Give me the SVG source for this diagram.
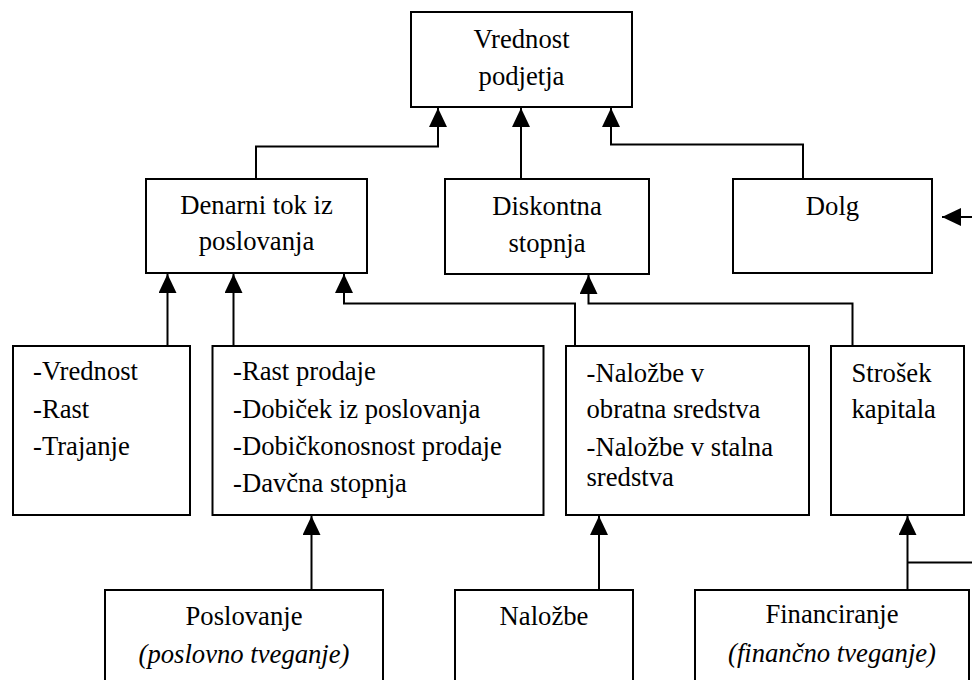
<svg xmlns="http://www.w3.org/2000/svg" width="972" height="680" viewBox="0 0 972 680" font-family="Liberation Serif">
<style>
.box{fill:#fff;stroke:#000;stroke-width:2}
text{font-size:26.67px;fill:#000}
.c{text-anchor:middle}
.i{font-style:italic}
.ln{fill:none;stroke:#000;stroke-width:2}
</style>
<defs>
<marker id="ah" markerUnits="userSpaceOnUse" markerWidth="20" markerHeight="20" refX="19" refY="9" orient="auto" viewBox="0 0 20 20">
<path d="M0,0 L19,9 L0,18 z" fill="#000"/>
</marker>
</defs>
<rect width="972" height="680" fill="#fff"/>
<g id="connectors">
<polyline class="ln" points="256,179 256,146.5 438,146.5 438,108" marker-end="url(#ah)"/>
<polyline class="ln" points="521,179 521,108" marker-end="url(#ah)"/>
<polyline class="ln" points="803,179 803,144.5 611,144.5 611,108" marker-end="url(#ah)"/>
<polyline class="ln" points="167.5,346 167.5,274" marker-end="url(#ah)"/>
<polyline class="ln" points="233.5,346 233.5,274" marker-end="url(#ah)"/>
<polyline class="ln" points="575,346 575,303.5 344,303.5 344,274" marker-end="url(#ah)"/>
<polyline class="ln" points="852.5,346 852.5,303.5 588.5,303.5 588.5,275" marker-end="url(#ah)"/>
<polyline class="ln" points="311.5,590 311.5,516" marker-end="url(#ah)"/>
<polyline class="ln" points="599,590 599,516" marker-end="url(#ah)"/>
<polyline class="ln" points="907.5,590 907.5,516" marker-end="url(#ah)"/>
<polyline class="ln" points="907.5,562.5 972,562.5"/>
<polyline class="ln" points="972,217 942,217" marker-end="url(#ah)"/>
</g>
<g id="n-vrednost-podjetja">
<rect class="box" x="411" y="12" width="221" height="95"/>
<text class="c" style="font-family:'Liberation Serif' !important" x="521.5" y="48">Vrednost</text>
<text class="c" style="font-family:'Liberation Serif' !important" x="521.5" y="85">podjetja</text>
</g>
<g id="n-denarni-tok">
<rect class="box" x="146" y="179" width="221" height="94"/>
<text class="c" style="font-family:'Liberation Serif' !important" x="256.5" y="213.5">Denarni tok iz</text>
<text class="c" style="font-family:'Liberation Serif' !important" x="256.5" y="250">poslovanja</text>
</g>
<g id="n-diskontna">
<rect class="box" x="445" y="179" width="204" height="95"/>
<text class="c" style="font-family:'Liberation Serif' !important" x="547" y="215">Diskontna</text>
<text class="c" style="font-family:'Liberation Serif' !important" x="547" y="251.5">stopnja</text>
</g>
<g id="n-dolg">
<rect class="box" x="733" y="179" width="199" height="94"/>
<text class="c" style="font-family:'Liberation Serif' !important" x="832.5" y="214.5">Dolg</text>
</g>
<g id="n-vrednost-rast">
<rect class="box" x="13" y="346" width="177" height="169"/>
<text style="font-family:'Liberation Serif' !important" x="33" y="380">-Vrednost</text>
<text style="font-family:'Liberation Serif' !important" x="33" y="417.5">-Rast</text>
<text style="font-family:'Liberation Serif' !important" x="33" y="455">-Trajanje</text>
</g>
<g id="n-rast-prodaje">
<rect class="box" x="212.5" y="346" width="331" height="169"/>
<text style="font-family:'Liberation Serif' !important" x="233" y="380">-Rast prodaje</text>
<text style="font-family:'Liberation Serif' !important" x="233" y="417.5">-Dobiček iz poslovanja</text>
<text style="font-family:'Liberation Serif' !important" x="233" y="455">-Dobičkonosnost prodaje</text>
<text style="font-family:'Liberation Serif' !important" x="233" y="492">-Davčna stopnja</text>
</g>
<g id="n-nalozbe-sredstva">
<rect class="box" x="566" y="346" width="243" height="169"/>
<text style="font-family:'Liberation Serif' !important" x="586.5" y="381.5">-Naložbe v</text>
<text style="font-family:'Liberation Serif' !important" x="586.5" y="418">obratna sredstva</text>
<text style="font-family:'Liberation Serif' !important" x="586.5" y="455.5">-Naložbe v stalna</text>
<text style="font-family:'Liberation Serif' !important" x="586.5" y="485.5">sredstva</text>
</g>
<g id="n-strosek">
<rect class="box" x="831" y="346" width="133" height="169"/>
<text style="font-family:'Liberation Serif' !important" x="851.5" y="381.5">Strošek</text>
<text style="font-family:'Liberation Serif' !important" x="851.5" y="417.5">kapitala</text>
</g>
<g id="n-poslovanje">
<rect class="box" x="105" y="590" width="278" height="120"/>
<text class="c" style="font-family:'Liberation Serif' !important" x="244" y="624.5">Poslovanje</text>
<text class="c i" style="font-family:'Liberation Serif' !important" x="244" y="662.5">(poslovno tveganje)</text>
</g>
<g id="n-nalozbe">
<rect class="box" x="455" y="590" width="178" height="120"/>
<text class="c" style="font-family:'Liberation Serif' !important" x="544" y="625">Naložbe</text>
</g>
<g id="n-financiranje">
<rect class="box" x="695" y="590" width="274" height="120"/>
<text class="c" style="font-family:'Liberation Serif' !important" x="832" y="623">Financiranje</text>
<text class="c i" style="font-family:'Liberation Serif' !important" x="832" y="662">(finančno tveganje)</text>
</g>
</svg>
